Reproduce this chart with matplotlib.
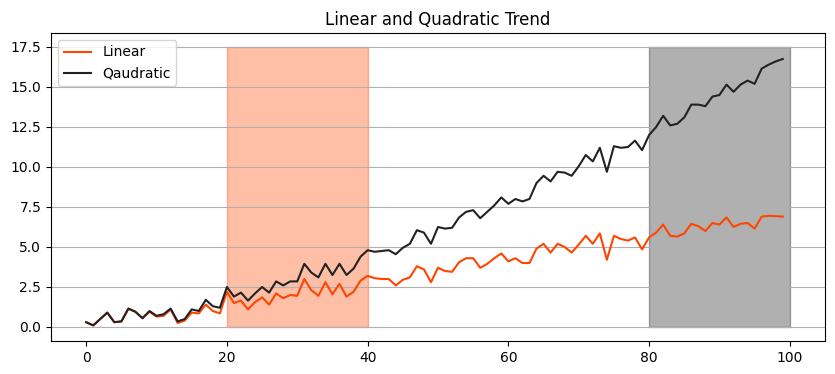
import matplotlib.pyplot as plt
import numpy as np

x = np.arange(100)

linear = [0.3, 0.1, 0.5, 0.9, 0.3, 0.35, 1.15, 0.95, 0.55, 0.95,
          0.65, 0.7, 1.1, 0.25, 0.4, 0.9, 0.85, 1.4, 1.0, 0.85,
          2.2, 1.5, 1.65, 1.1, 1.55, 1.85, 1.4, 2.1, 1.8, 2.0,
          1.95, 3.0, 2.3, 1.95, 2.8, 2.05, 2.7, 1.9, 2.2, 2.9,
          3.2, 3.05, 3.0, 3.0, 2.6, 2.95, 3.1, 3.8, 3.6, 2.8,
          3.7, 3.5, 3.45, 4.05, 4.3, 4.3, 3.7, 3.95, 4.3, 4.6,
          4.1, 4.3, 4.0, 4.0, 4.9, 5.2, 4.65, 5.2, 5.0, 4.65,
          5.15, 5.7, 5.2, 5.85, 4.2, 5.7, 5.5, 5.4, 5.6, 4.85,
          5.6, 5.9, 6.4, 5.7, 5.65, 5.85, 6.45, 6.3, 6.0, 6.5,
          6.4, 6.85, 6.25, 6.45, 6.5, 6.15, 6.9, 6.95, 6.93, 6.9]

quadratic = [0.3, 0.1, 0.5, 0.9, 0.3, 0.35, 1.15, 0.95, 0.55, 1.0,
             0.7, 0.8, 1.15, 0.35, 0.5, 1.1, 1.0, 1.7, 1.3, 1.2,
             2.5, 1.9, 2.15, 1.65, 2.1, 2.5, 2.15, 2.85, 2.6, 2.85,
             2.85, 3.95, 3.4, 3.1, 3.95, 3.25, 3.95, 3.25, 3.65, 4.4,
             4.8, 4.7, 4.75, 4.8, 4.55, 4.95, 5.2, 6.05, 5.9, 5.2,
             6.25, 6.15, 6.2, 6.85, 7.2, 7.3, 6.8, 7.2, 7.6, 8.1,
             7.7, 8.0, 7.85, 8.0, 9.0, 9.45, 9.1, 9.7, 9.65, 9.45,
             10.05, 10.75, 10.35, 11.2, 9.7, 11.3, 11.2, 11.25, 11.65, 11.05,
             12.0, 12.5, 13.2, 12.6, 12.7, 13.1, 13.9, 13.9, 13.8, 14.4,
             14.5, 15.15, 14.7, 15.15, 15.4, 15.2, 16.15, 16.4, 16.6, 16.75]

spans = [(20, 40, 'orangered', 0.35), (80, 100, 'black', 0.31)]
span_top = 17.5

fig = plt.figure(figsize=(8.35, 3.74), dpi=100)
ax = fig.add_axes([51 / 835, 1 - 341 / 374, 774 / 835, 308 / 374])

for a, b, c, al in spans:
    ax.fill_between([a, b], 0, span_top, color=c, alpha=al)

ax.plot(x, linear, color='orangered', label='Linear')
ax.plot(x, quadratic, color='#222222', label='Qaudratic')

ax.grid(axis='y')
ax.legend(loc='upper left')
ax.set_title('Linear and Quadratic Trend')

plt.savefig('out.png')
